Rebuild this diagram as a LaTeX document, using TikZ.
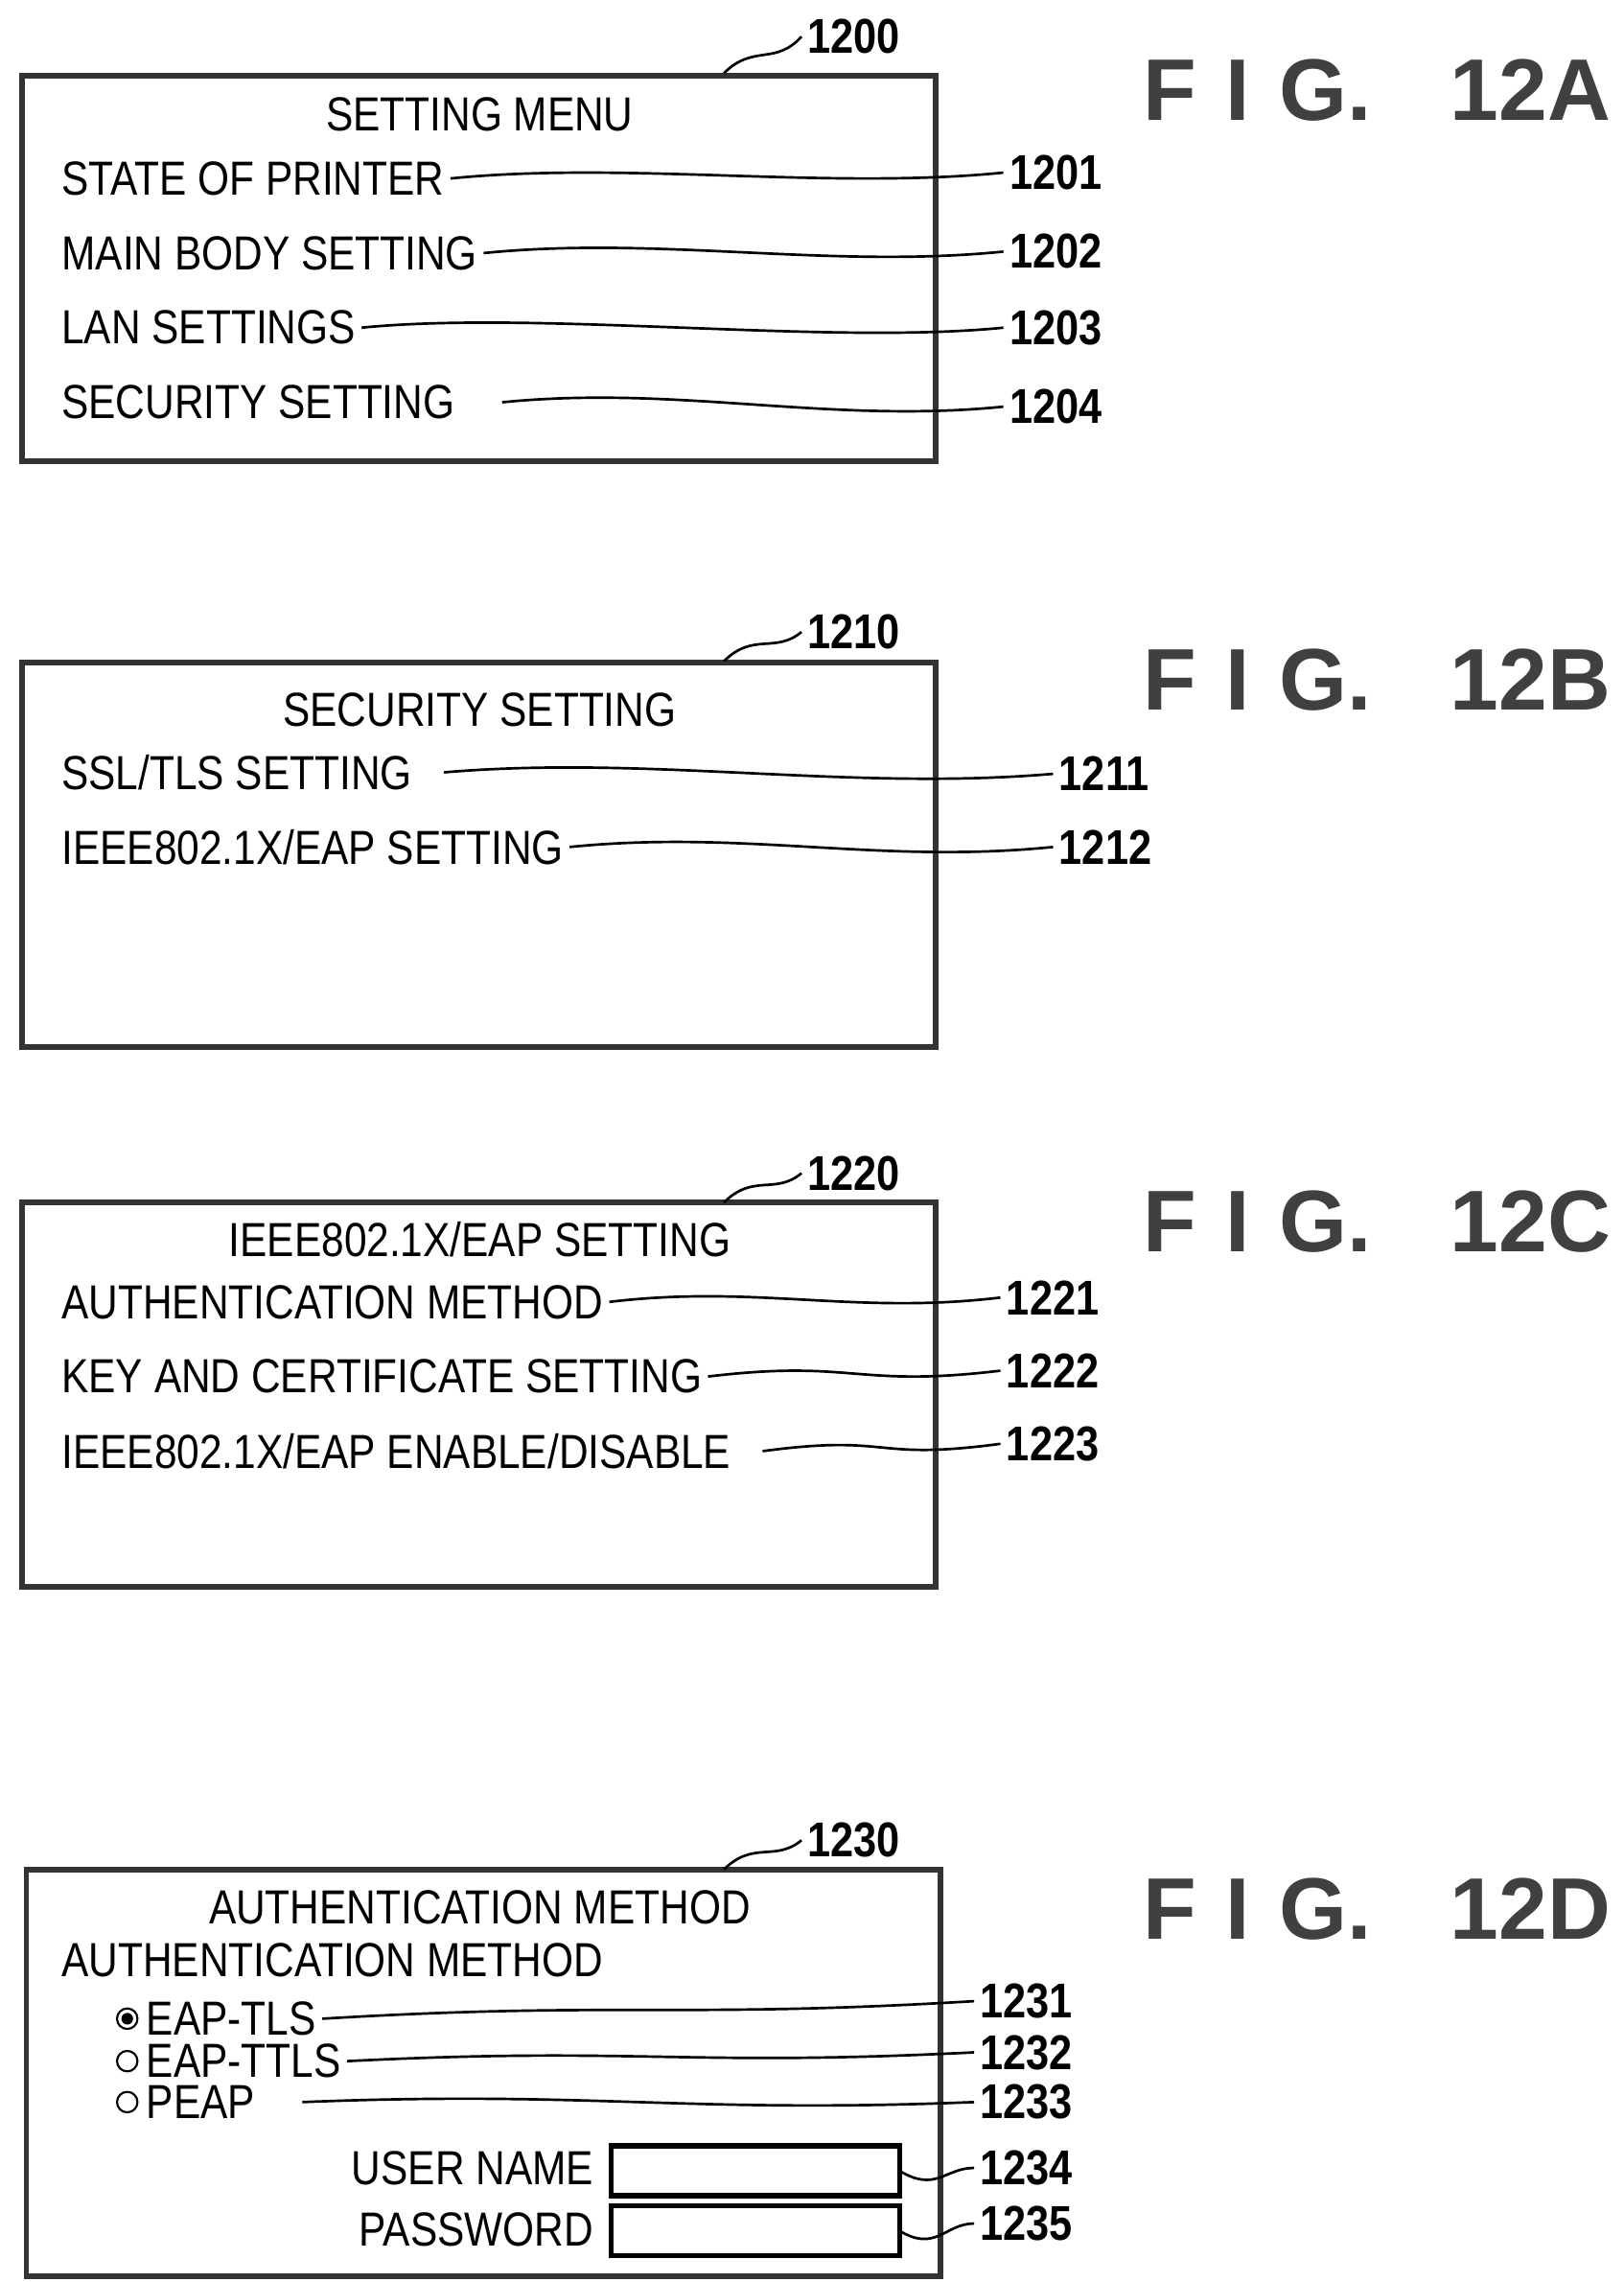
\documentclass[tikz,border=0pt]{standalone}
\usepackage{fontspec}
\setmainfont{Liberation Sans}
\newfontfamily\narrowsf[FakeStretch=0.85]{Liberation Sans}
\begin{document}
\begin{tikzpicture}[x=0.01cm,y=-0.01cm,
  txt/.style={anchor=west,inner sep=1pt,font=\narrowsf\fontsize{9.3}{10}\selectfont},
  ttl/.style={inner sep=1pt,font=\narrowsf\fontsize{9.3}{10}\selectfont},
  num/.style={anchor=west,inner sep=1pt,font=\narrowsf\fontsize{9.5}{10}\selectfont\bfseries},
  fig/.style={anchor=east,inner sep=0pt,text=black!75,font=\fontsize{17}{20}\selectfont\bfseries},
  panel/.style={draw=black!80,line width=1.1pt},
  lead/.style={line width=0.5pt}]
   \useasboundingbox (0,0) rectangle (1110,1560);
   % panel A
   \draw[panel] (15,52) rectangle (640,315);
   \node[num] (n1200) at (548,25) {1200};
   \coordinate (c1200) at (495,50);
   \draw[lead] (c1200) .. controls (515,30) and (530,45) .. (n1200.west);
   \node[ttl] at (328,78) {SETTING MENU};
   \node[txt] (t1201) at (38,122) {STATE OF PRINTER};
   \node[txt] (t1202) at (38,173) {MAIN BODY SETTING};
   \node[txt] (t1203) at (38,224) {LAN SETTINGS};
   \node[txt] (t1204) at (38,275) {SECURITY SETTING};
   \node[num] (n1201) at (686,118) {1201};
   \node[num] (n1202) at (686,172) {1202};
   \node[num] (n1203) at (686,224) {1203};
   \node[num] (n1204) at (686,278) {1204};
   \foreach \i in {1201,1202,1203}
     \draw[lead] (t\i.east) .. controls +(120,-12) and +(-120,12) .. (n\i.west);
   \draw[lead] ([xshift=8pt]t1204.east) .. controls +(120,-12) and +(-120,12) .. (n1204.west);
   \node[fig] at (1102,62) {F\,\,I\,\,G.\hspace{0.9em}12A};
   % panel B
   \draw[panel] (15,453) rectangle (640,716);
   \node[num] (n1210) at (548,432) {1210};
   \coordinate (c1210) at (495,452);
   \draw[lead] (c1210) .. controls (515,432) and (530,447) .. (n1210.west);
   \node[ttl] at (328,485) {SECURITY SETTING};
   \node[txt] (t1211) at (38,528) {SSL/TLS SETTING};
   \node[txt] (t1212) at (38,579) {IEEE802.1X/EAP SETTING};
   \node[num] (n1211) at (720,529) {1211};
   \node[num] (n1212) at (720,579) {1212};
   \draw[lead] ([xshift=5pt]t1211.east) .. controls +(140,-12) and +(-140,12) .. (n1211.west);
   \draw[lead] (t1212.east) .. controls +(120,-12) and +(-120,12) .. (n1212.west);
   \node[fig] at (1102,465) {F\,\,I\,\,G.\hspace{0.9em}12B};
   % panel C
   \draw[panel] (15,822) rectangle (640,1085);
   \node[num] (n1220) at (548,802) {1220};
   \coordinate (c1220) at (495,822);
   \draw[lead] (c1220) .. controls (515,802) and (530,817) .. (n1220.west);
   \node[ttl] at (328,847) {IEEE802.1X/EAP SETTING};
   \node[txt] (t1221) at (38,890) {AUTHENTICATION METHOD};
   \node[txt] (t1222) at (38,941) {KEY AND CERTIFICATE SETTING};
   \node[txt] (t1223) at (38,992) {IEEE802.1X/EAP ENABLE/DISABLE};
   \node[num] (n1221) at (684,887) {1221};
   \node[num] (n1222) at (684,937) {1222};
   \node[num] (n1223) at (684,987) {1223};
   \foreach \i in {1221,1222}
     \draw[lead] (t\i.east) .. controls +(100,-12) and +(-100,12) .. (n\i.west);
   \draw[lead] ([xshift=5pt]t1223.east) .. controls +(90,-12) and +(-90,12) .. (n1223.west);
   \node[fig] at (1102,835) {F\,\,I\,\,G.\hspace{0.9em}12C};
   % panel D
   \draw[panel] (18,1278) rectangle (643,1556);
   \node[num] (n1230) at (548,1258) {1230};
   \coordinate (c1230) at (495,1278);
   \draw[lead] (c1230) .. controls (515,1258) and (530,1273) .. (n1230.west);
   \node[ttl] at (328,1304) {AUTHENTICATION METHOD};
   \node[txt] at (38,1340) {AUTHENTICATION METHOD};
   \draw (87,1380) circle (7); \fill (87,1380) circle (4);
   \draw (87,1409) circle (7);
   \draw (87,1437) circle (7);
   \node[txt] (t1231) at (96,1380) {EAP-TLS};
   \node[txt] (t1232) at (96,1409) {EAP-TTLS};
   \node[txt] (t1233) at (96,1437) {PEAP};
   \node[txt,anchor=east] at (410,1482) {USER NAME};
   \node[txt,anchor=east] at (410,1524) {PASSWORD};
   \draw[line width=1pt] (418,1467) rectangle (615,1501);
   \draw[line width=1pt] (418,1508) rectangle (615,1542);
   \coordinate (b1234) at (615,1484);
   \coordinate (b1235) at (615,1525);
   \node[num] (n1231) at (666,1368) {1231};
   \node[num] (n1232) at (666,1403) {1232};
   \node[num] (n1233) at (666,1437) {1233};
   \node[num] (n1234) at (666,1482) {1234};
   \node[num] (n1235) at (666,1520) {1235};
   \draw[lead] (t1231.east) .. controls +(200,-12) and +(-200,12) .. (n1231.west);
   \draw[lead] (t1232.east) .. controls +(200,-10) and +(-200,10) .. (n1232.west);
   \draw[lead] ([xshift=8pt]t1233.east) .. controls +(200,-8) and +(-200,8) .. (n1233.west);
   \draw[lead] (b1234) .. controls +(25,15) and +(-20,0) .. (n1234.west);
   \draw[lead] (b1235) .. controls +(25,15) and +(-20,0) .. (n1235.west);
   \node[fig] at (1102,1305) {F\,\,I\,\,G.\hspace{0.9em}12D};
\end{tikzpicture}
\end{document}
